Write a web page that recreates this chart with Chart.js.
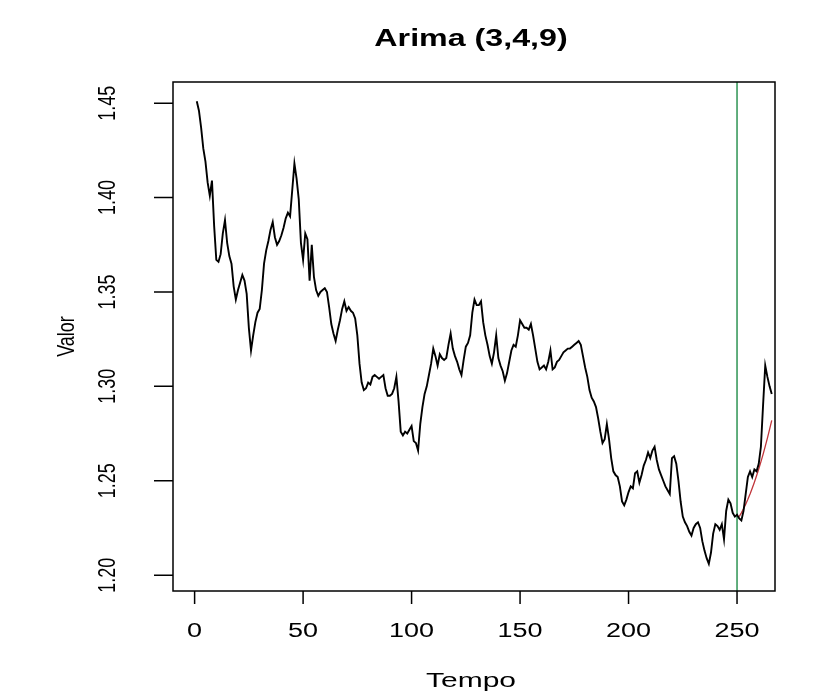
<!DOCTYPE html>
<html>
<head>
<meta charset="utf-8">
<script src="https://cdn.jsdelivr.net/npm/chart.js@4.4.1/dist/chart.umd.min.js"></script>
<style>
  html, body { margin: 0; padding: 0; background: #fff; overflow: hidden; }
  #grafico { display: block; }
</style>
</head>
<body>
<canvas id="grafico" width="817" height="696"></canvas>
<script>
// serie observada, t = 1..266
var valor = [
  1.451, 1.446, 1.437, 1.426, 1.419, 1.408, 1.401, 1.409, 1.385, 1.367,
  1.366, 1.370, 1.381, 1.388, 1.376, 1.369, 1.365, 1.353, 1.346, 1.351,
  1.355, 1.359, 1.356, 1.349, 1.331, 1.319, 1.327, 1.334, 1.339, 1.341,
  1.351, 1.365, 1.372, 1.377, 1.383, 1.387, 1.379, 1.375, 1.377, 1.380,
  1.384, 1.389, 1.392, 1.390, 1.404, 1.418, 1.410, 1.399, 1.376, 1.367,
  1.381, 1.378, 1.356, 1.375, 1.358, 1.351, 1.348, 1.350, 1.351, 1.352,
  1.350, 1.342, 1.333, 1.328, 1.324, 1.330, 1.335, 1.341, 1.345, 1.340,
  1.342, 1.340, 1.339, 1.336, 1.327, 1.312, 1.302, 1.298, 1.299, 1.302,
  1.301, 1.305, 1.306, 1.305, 1.304, 1.305, 1.306, 1.299, 1.295, 1.295,
  1.296, 1.299, 1.305, 1.292, 1.276, 1.274, 1.276, 1.275, 1.277, 1.279,
  1.271, 1.270, 1.266, 1.280, 1.289, 1.296, 1.300, 1.306, 1.312, 1.320,
  1.316, 1.311, 1.317, 1.315, 1.314, 1.315, 1.322, 1.328, 1.320, 1.316,
  1.313, 1.309, 1.306, 1.314, 1.321, 1.323, 1.327, 1.339, 1.346, 1.343,
  1.343, 1.345, 1.334, 1.327, 1.322, 1.316, 1.312, 1.318, 1.327, 1.315,
  1.311, 1.308, 1.303, 1.307, 1.313, 1.319, 1.322, 1.321, 1.327, 1.335,
  1.333, 1.331, 1.331, 1.330, 1.333, 1.327, 1.320, 1.313, 1.309, 1.310,
  1.311, 1.309, 1.313, 1.319, 1.309, 1.310, 1.313, 1.314, 1.316, 1.318,
  1.319, 1.320, 1.320, 1.321, 1.322, 1.323, 1.324, 1.322, 1.316, 1.310,
  1.305, 1.298, 1.294, 1.292, 1.289, 1.283, 1.276, 1.270, 1.272, 1.280,
  1.272, 1.262, 1.255, 1.253, 1.252, 1.247, 1.239, 1.237, 1.240, 1.244,
  1.247, 1.246, 1.254, 1.255, 1.249, 1.253, 1.258, 1.261, 1.265, 1.262,
  1.266, 1.268, 1.261, 1.256, 1.253, 1.250, 1.247, 1.245, 1.243, 1.262,
  1.263, 1.259, 1.250, 1.239, 1.231, 1.228, 1.226, 1.223, 1.221, 1.225,
  1.227, 1.228, 1.225, 1.218, 1.213, 1.209, 1.206, 1.212, 1.222, 1.227,
  1.226, 1.224, 1.227, 1.219, 1.234, 1.240, 1.238, 1.233, 1.231, 1.232,
  1.230, 1.229, 1.234, 1.243, 1.252, 1.255, 1.252, 1.256, 1.255, 1.259,
  1.268, 1.290, 1.311, 1.305, 1.300, 1.296
];

// previsao do modelo, t = 251..266
var inicioPrevisao = 251;
var previsao = [
  1.2310, 1.2330, 1.2352, 1.2376, 1.2402, 1.2430, 1.2460, 1.2492,
  1.2526, 1.2562, 1.2600, 1.2640, 1.2682, 1.2726, 1.2772, 1.2820
];

var corte = 250;
var xTicks = [0, 50, 100, 150, 200, 250];
var yTicks = [1.20, 1.25, 1.30, 1.35, 1.40, 1.45];
var xLim = [-9.96, 267.5];
var yLim = [1.1916, 1.4612];

var SX = 1.3; // o png original esta esticado na horizontal

var serie = valor.map(function(v, i) { return { x: i + 1, y: v }; });
var prev = previsao.map(function(v, i) { return { x: inicioPrevisao + i, y: v }; });
var linhaCorte = [{ x: corte, y: yLim[0] }, { x: corte, y: yLim[1] }];

function texto(ctx, s, x, y, rot, font, sx, align) {
    ctx.save();
    ctx.translate(x, y);
    ctx.scale(sx, 1);
    ctx.rotate(rot);
    ctx.font = font;
    ctx.textAlign = align;
    ctx.textBaseline = 'alphabetic';
    ctx.fillStyle = '#000';
    ctx.fillText(s, 0, 0);
    ctx.restore();
}

var eixosR = {
    id: 'eixosR',
    afterDraw: function(chart) {
        var ctx = chart.ctx;
        var a = chart.chartArea;
        var sx = chart.scales.x, sy = chart.scales.y;
        var fonte = '18px "Liberation Sans", Arial, sans-serif';
        var fonteX = '20px "Liberation Sans", Arial, sans-serif';

        ctx.save();
        ctx.strokeStyle = '#000';
        ctx.lineWidth = 1.5;
        ctx.strokeRect(a.left, a.top, a.right - a.left, a.bottom - a.top);

        ctx.beginPath();
        xTicks.forEach(function(t) {
            var px = sx.getPixelForValue(t);
            ctx.moveTo(px, a.bottom);
            ctx.lineTo(px, a.bottom + 13);
        });
        yTicks.forEach(function(t) {
            var py = sy.getPixelForValue(t);
            ctx.moveTo(a.left, py);
            ctx.lineTo(a.left - 19, py);
        });
        ctx.stroke();
        ctx.restore();

        xTicks.forEach(function(t) {
            texto(ctx, String(t), sx.getPixelForValue(t), 637, 0, fonteX, 1.35, 'center');
        });
        yTicks.forEach(function(t) {
            texto(ctx, t.toFixed(2), 115, sy.getPixelForValue(t), -Math.PI / 2, fonte, SX, 'center');
        });

        var cx = (a.left + a.right) / 2;
        var cy = (a.top + a.bottom) / 2;
        texto(ctx, 'Tempo', cx - 3, 687, 0, fonteX, 1.5, 'center');
        texto(ctx, 'Valor', 74, cy, -Math.PI / 2, fonte, SX, 'center');
        texto(ctx, 'Arima (3,4,9)', cx - 3, 46, 0, 'bold 23px "Liberation Sans", Arial, sans-serif', 1.4, 'center');
    }
};

new Chart(document.getElementById('grafico'), {
    type: 'line',
    data: {
        datasets: [
            {
                label: 'Valor',
                data: serie,
                borderColor: '#000000',
                borderWidth: 1.9,
                pointRadius: 0,
                tension: 0
            },
            {
                label: 'Previsao',
                data: prev,
                borderColor: '#c0353a',
                borderWidth: 1.3,
                pointRadius: 0,
                tension: 0
            },
            {
                label: 'Corte',
                data: linhaCorte,
                borderColor: '#3a9a5e',
                borderWidth: 1.6,
                pointRadius: 0
            }
        ]
    },
    options: {
        responsive: false,
        animation: false,
        devicePixelRatio: 1,
        layout: { padding: { left: 173, right: 42, top: 82, bottom: 105 } },
        plugins: {
            legend: { display: false },
            title: { display: false },
            tooltip: { enabled: false }
        },
        scales: {
            x: { type: 'linear', display: false, min: xLim[0], max: xLim[1] },
            y: { type: 'linear', display: false, min: yLim[0], max: yLim[1] }
        }
    },
    plugins: [eixosR]
});
</script>
</body>
</html>
